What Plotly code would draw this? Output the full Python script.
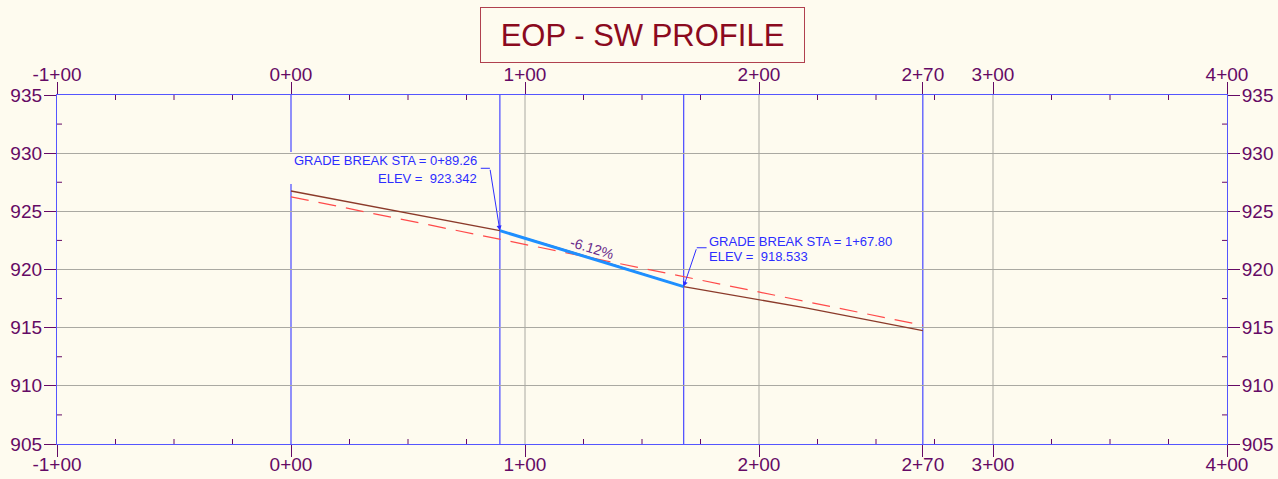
import plotly.graph_objects as go

# ---------------- data ----------------
station_ticks = [-100, 0, 100, 200, 270, 300, 400]
station_labels = ["-1+00", "0+00", "1+00", "2+00", "2+70", "3+00", "4+00"]
elev_ticks = [905, 910, 915, 920, 925, 930, 935]
grid_stations = [100, 200, 300]
x_range = [-100, 400]
y_range = [905, 935]
minor_station_step = 25
minor_elev_step = 2.5

# existing ground (solid brown)
eg_sta = [0, 45, 89.26, 128, 167.8, 220, 270]
eg_elev = [926.75, 925.05, 923.342, 921.02, 918.533, 916.70, 914.75]

# dashed red profile
red_sta = [0, 270]
red_elev = [926.25, 915.20]

# proposed grade segment (thick blue)
pg_sta = [89.26, 167.8]
pg_elev = [923.342, 918.533]
grade_label = "-6.12%"

# vertical station lines
vline_sta = [89.26, 167.8, 270]
start_sta = 0

# grade break labels
gb1_text = ["GRADE BREAK STA = 0+89.26", "ELEV =&nbsp; 923.342"]
gb2_text = ["GRADE BREAK STA = 1+67.80", "ELEV =&nbsp; 918.533"]

title = "EOP - SW PROFILE"

# ---------------- style ----------------
BG = "#fefbef"
PURPLE = "#650a65"
BLUE = "#5555ff"
GRID = "#aaa9a2"
FONT = "Arial, Liberation Sans, sans-serif"
TXTBLUE = "#2d2dff"

fig = go.Figure()

fig.add_trace(go.Scatter(x=red_sta, y=red_elev, mode="lines",
                         line=dict(color="#ff4a4a", width=1.2, dash="18px,10px"),
                         hoverinfo="skip", showlegend=False))
fig.add_trace(go.Scatter(x=eg_sta, y=eg_elev, mode="lines",
                         line=dict(color="#8b3a2a", width=1.4),
                         hoverinfo="skip", showlegend=False))
fig.add_trace(go.Scatter(x=pg_sta, y=pg_elev, mode="lines",
                         line=dict(color="#1e8fff", width=3),
                         hoverinfo="skip", showlegend=False))
# dummy trace for the mirrored axes
fig.add_trace(go.Scatter(x=x_range, y=y_range, xaxis="x2", yaxis="y2", mode="lines",
                         line=dict(width=0), opacity=0, hoverinfo="skip", showlegend=False))

shapes = []
# gray vertical grid lines
for g in grid_stations:
    shapes.append(dict(type="line", xref="x", yref="y", x0=g, x1=g, y0=y_range[0], y1=y_range[1],
                       line=dict(color=GRID, width=1), layer="below"))
# vertical blue station lines
for s in vline_sta:
    shapes.append(dict(type="line", xref="x", yref="y", x0=s, x1=s, y0=y_range[0], y1=y_range[1],
                       line=dict(color=BLUE, width=1.3), layer="below"))
# start station line broken for label
shapes.append(dict(type="line", xref="x", yref="y", x0=start_sta, x1=start_sta, y0=930.1, y1=y_range[1],
                   line=dict(color=BLUE, width=1.3), layer="below"))
shapes.append(dict(type="line", xref="x", yref="y", x0=start_sta, x1=start_sta, y0=y_range[0], y1=927.35,
                   line=dict(color=BLUE, width=1.3), layer="below"))

# minor ticks crossing the frame
s = x_range[0] + minor_station_step
while s < x_range[1]:
    if s % 100 != 0:
        for yy in y_range:
            shapes.append(dict(type="line", xref="x", yref="y", ysizemode="pixel", yanchor=yy,
                               x0=s, x1=s, y0=-5, y1=5, line=dict(color=PURPLE, width=1)))
    s += minor_station_step
e = y_range[0] + minor_elev_step
while e < y_range[1]:
    if e % 5 != 0:
        for xx in x_range:
            shapes.append(dict(type="line", xref="x", yref="y", xsizemode="pixel", xanchor=xx,
                               x0=-5, x1=5, y0=e, y1=e, line=dict(color=PURPLE, width=1)))
    e += minor_elev_step

# leader horizontal segments
shapes.append(dict(type="line", xref="x", yref="y", x0=81.1, x1=85.0, y0=928.70, y1=928.70,
                   line=dict(color=TXTBLUE, width=1)))
shapes.append(dict(type="line", xref="x", yref="y", x0=173.4, x1=177.6, y0=921.87, y1=921.87,
                   line=dict(color=TXTBLUE, width=1)))

annotations = [
    dict(text=title, xref="paper", yref="paper", x=0.5, y=1.172, xanchor="center", yanchor="middle",
         showarrow=False, font=dict(family=FONT, size=31, color="#8b0a1e"),
         bordercolor="#b0404f", borderwidth=1, bgcolor=BG, width=321, height=52),
    dict(text=gb1_text[0], x=80.4, y=929.41, xref="x", yref="y", xanchor="right", yanchor="middle",
         showarrow=False, font=dict(family=FONT, size=13, color=TXTBLUE)),
    dict(text=gb1_text[1], x=80.4, y=927.86, xref="x", yref="y", xanchor="right", yanchor="middle",
         showarrow=False, font=dict(family=FONT, size=13, color=TXTBLUE)),
    dict(text=gb2_text[0], x=177.8, y=922.45, xref="x", yref="y", xanchor="left", yanchor="middle",
         showarrow=False, font=dict(family=FONT, size=13, color=TXTBLUE)),
    dict(text=gb2_text[1], x=177.8, y=921.16, xref="x", yref="y", xanchor="left", yanchor="middle",
         showarrow=False, font=dict(family=FONT, size=13, color=TXTBLUE)),
    dict(text="", x=pg_sta[0], y=pg_elev[0], ax=85.0, ay=928.70, xref="x", yref="y", axref="x", ayref="y",
         showarrow=True, arrowhead=2, arrowsize=1, arrowwidth=1, arrowcolor=TXTBLUE, standoff=0),
    dict(text="", x=pg_sta[1], y=pg_elev[1], ax=173.4, ay=921.87, xref="x", yref="y", axref="x", ayref="y",
         showarrow=True, arrowhead=2, arrowsize=1, arrowwidth=1, arrowcolor=TXTBLUE, standoff=0),
    dict(text=grade_label, x=(pg_sta[0] + pg_sta[1]) / 2, y=(pg_elev[0] + pg_elev[1]) / 2,
         xref="x", yref="y", yshift=11, textangle=17, showarrow=False,
         font=dict(family=FONT, size=14, color="#6b2d8b")),
]

axis_font = dict(family=FONT, size=19, color=PURPLE)
xcommon = dict(range=x_range, tickmode="array", tickvals=station_ticks, ticktext=station_labels,
               ticks="outside", ticklen=12, tickcolor=PURPLE, tickwidth=1, tickfont=axis_font,
               showgrid=False, zeroline=False, fixedrange=True, automargin=False)
ycommon = dict(range=y_range, tickmode="array", tickvals=elev_ticks,
               ticks="outside", ticklen=12, tickcolor=PURPLE, tickwidth=1, tickfont=axis_font,
               ticklabelstandoff=-2,
               zeroline=False, fixedrange=True, automargin=False)

fig.update_layout(
    width=1278, height=479,
    margin=dict(l=57, r=51, t=95, b=35, autoexpand=False),
    paper_bgcolor=BG, plot_bgcolor=BG,
    xaxis=dict(**xcommon, ticklabelstandoff=-9, showline=True, linecolor=BLUE, linewidth=1.3,
               mirror=True, side="bottom"),
    xaxis2=dict(**xcommon, ticklabelstandoff=-7, overlaying="x", side="top", anchor="y"),
    yaxis=dict(**ycommon, showgrid=True, gridcolor=GRID, gridwidth=1,
               showline=True, linecolor=BLUE, linewidth=1.3, mirror=True, side="left"),
    yaxis2=dict(**ycommon, showgrid=False, overlaying="y", side="right", anchor="x"),
    shapes=shapes,
    annotations=annotations,
    showlegend=False,
)

fig.write_html("out.html", config={"displayModeBar": False},
               post_script="document.body.style.margin='0';document.body.style.overflow='hidden';")
